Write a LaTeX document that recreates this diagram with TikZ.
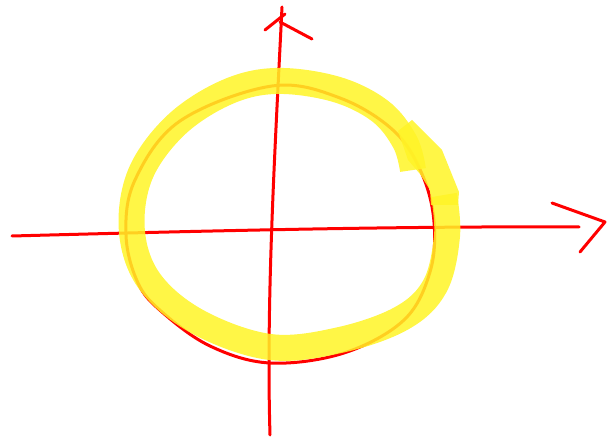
\documentclass[tikz,border=0pt]{standalone}
\usepackage{tikz}

\begin{document}
\begin{tikzpicture}[x=1pt, y=-1pt, line cap=round, line join=round]
        \tikzstyle{pen} = [draw=red, line width=3pt]
        \tikzstyle{marker} = [draw=yellow!85!white, line width=26pt, opacity=0.85]
        \useasboundingbox (0,0) rectangle (608,443);
        \coordinate (xstart) at (12,236);
        \coordinate (xend) at (579,227);
        \coordinate (ytop) at (282,7);
        \coordinate (ybottom) at (270,435);
        % red circle
        \draw [pen] plot [smooth cycle, tension=0.6] coordinates {(272,86) (340,98) (394,131) (422,174) (434,222) (430,272) (404,320) (344,353) (270,363) (210,346) (162,312) (138,283) (126,235) (135,180) (180,121)};
        % axes
        \draw [pen] (xstart) .. controls (200,231) and (400,226) .. (xend);
        \draw [pen] (552,203) -- (605,222) -- (580,252);
        \draw [pen] (ytop) .. controls (275,150) and (266,300) .. (ybottom);
        \draw [pen] (265,30) -- (285,14);
        \draw [pen] (280,22) -- (312,39);
        % highlighter
        \draw [marker, line cap=butt] plot [smooth, tension=0.6] coordinates {(444,195) (447,236) (435,286) (402,318) (340,340) (270,347) (198,322) (150,282) (132,232) (140,175) (175,126) (225,93) (275,81) (335,89) (380,111) (405,142) (413,170)};
        \fill [yellow!85!white, opacity=0.85] (398,131) -- (412,120) -- (442,150) -- (459,192) -- (458,205) -- (431,205) -- (430,190) -- (420,174) -- (408,160) -- cycle;
    \end{tikzpicture}
\end{document}
